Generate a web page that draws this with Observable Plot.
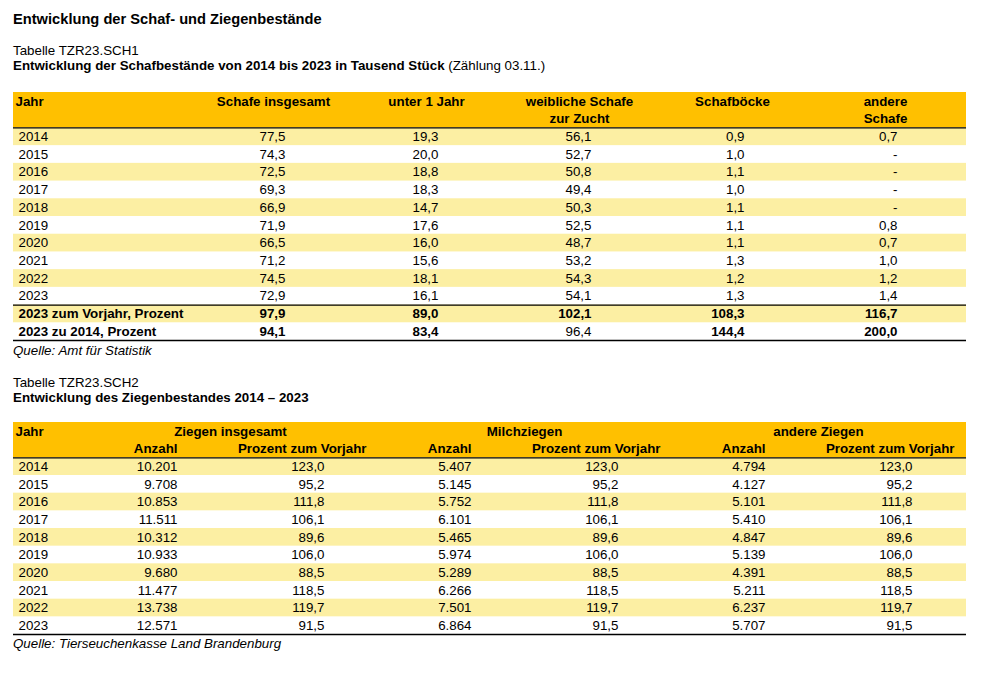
<!DOCTYPE html>
<html><head><meta charset="utf-8">
<script src="https://cdn.jsdelivr.net/npm/d3@7"></script>
<script src="https://cdn.jsdelivr.net/npm/@observablehq/plot@0.6"></script>
<style>
body{margin:0;background:#fff;font-family:"Liberation Sans",Arial,sans-serif;color:#000}
#page{position:relative;width:987px;height:673px;overflow:hidden;background:#fff}
.t{position:absolute;left:13px;white-space:nowrap;line-height:1;font-size:13.33px}
.h{font-size:14.67px;font-weight:bold}
.i{font-style:italic}
#page svg{position:absolute;left:0}
</style></head><body><div id="page">
<div class="t h" style="top:11.6px">Entwicklung der Schaf- und Ziegenbestände</div>
<div class="t" style="top:43.7px">Tabelle TZR23.SCH1</div>
<div class="t" style="top:58.7px"><b>Entwicklung der Schafbestände von 2014 bis 2023 in Tausend Stück</b> (Zählung 03.11.)</div>
<div class="t i" style="top:343.7px">Quelle: Amt für Statistik</div>
<div class="t" style="top:375.7px">Tabelle TZR23.SCH2</div>
<div class="t" style="top:390.7px"><b>Entwicklung des Ziegenbestandes 2014 – 2023</b></div>
<div class="t i" style="top:636.7px">Quelle: Tierseuchenkasse Land Brandenburg</div>
</div>
<script>
// ---------- Data: Tabelle 1 (Schafe, Tausend Stück) ----------
const years = [2014, 2015, 2016, 2017, 2018, 2019, 2020, 2021, 2022, 2023];
const sheepHeaders = [["Schafe insgesamt"], ["unter 1 Jahr"], ["weibliche Schafe", "zur Zucht"], ["Schafböcke"], ["andere", "Schafe"]];
const sheepTotal = [77.5, 74.3, 72.5, 69.3, 66.9, 71.9, 66.5, 71.2, 74.5, 72.9];
const sheepUnder1 = [19.3, 20.0, 18.8, 18.3, 14.7, 17.6, 16.0, 15.6, 18.1, 16.1];
const sheepEwes = [56.1, 52.7, 50.8, 49.4, 50.3, 52.5, 48.7, 53.2, 54.3, 54.1];
const sheepRams = [0.9, 1.0, 1.1, 1.0, 1.1, 1.1, 1.1, 1.3, 1.2, 1.3];
const sheepOther = [0.7, null, null, null, null, 0.8, 0.7, 1.0, 1.2, 1.4];
const summaryLabels = ["2023 zum Vorjahr, Prozent", "2023 zu 2014, Prozent"];
const summaryPrevYear = [97.9, 89.0, 102.1, 108.3, 116.7];
const summaryVs2014 = [94.1, 83.4, 96.4, 144.4, 200.0];

// ---------- Data: Tabelle 2 (Ziegen) ----------
const goatGroups = ["Ziegen insgesamt", "Milchziegen", "andere Ziegen"];
const goatSubHeaders = ["Anzahl", "Prozent zum Vorjahr"];
const goatTotal = [10201, 9708, 10853, 11511, 10312, 10933, 9680, 11477, 13738, 12571];
const goatTotalPct = [123.0, 95.2, 111.8, 106.1, 89.6, 106.0, 88.5, 118.5, 119.7, 91.5];
const goatDairy = [5407, 5145, 5752, 6101, 5465, 5974, 5289, 6266, 7501, 6864];
const goatDairyPct = [123.0, 95.2, 111.8, 106.1, 89.6, 106.0, 88.5, 118.5, 119.7, 91.5];
const goatOther = [4794, 4127, 5101, 5410, 4847, 5139, 4391, 5211, 6237, 5707];
const goatOtherPct = [123.0, 95.2, 111.8, 106.1, 89.6, 106.0, 88.5, 118.5, 119.7, 91.5];

// ---------- Helpers ----------
const de = d3.formatLocale({decimal: ",", thousands: ".", grouping: [3], currency: ["", " €"]});
const f1 = de.format(",.1f");
const fInt = de.format(",d");
const FONT = "Liberation Sans, Arial, sans-serif";
const FS = 13.33;
const ORANGE = "#FFC000", SHADE = "#FCEFA3";
const page = document.getElementById("page");

// ---------- Table 1 ----------
{
  const cols = sheepHeaders.map(h => h.join(" "));
  const series = [sheepTotal, sheepUnder1, sheepEwes, sheepRams, sheepOther];
  const nRows = 2 + years.length + summaryLabels.length;
  const rowLabels = [
    ...years.map((y, i) => ({idx: 2 + i, text: String(y), bold: false})),
    ...summaryLabels.map((s, i) => ({idx: 2 + years.length + i, text: s, bold: true}))
  ];
  const cells = [];
  years.forEach((y, i) => series.forEach((s, j) =>
    cells.push({idx: 2 + i, col: cols[j], text: s[i] == null ? "-" : f1(s[i]), bold: false})));
  [summaryPrevYear, summaryVs2014].forEach((s, r) => s.forEach((v, j) =>
    cells.push({idx: 2 + years.length + r, col: cols[j], text: f1(v), bold: !(r === 1 && j === 2)})));
  const headerCells = [];
  sheepHeaders.forEach((h, j) => h.forEach((line, k) => headerCells.push({idx: k, col: cols[j], text: line})));
  const shaded = rowLabels.filter(r => r.idx < 2 + years.length ? (r.idx - 2) % 2 === 0 : r.idx === 2 + years.length);
  const svg = Plot.plot({
    width: 987, height: 250,
    marginLeft: 13, marginRight: 21, marginTop: 0, marginBottom: 2,
    x: {type: "point", domain: cols, range: [284, 898], padding: 0, axis: null},
    y: {domain: [0, nRows], range: [0, 248], axis: null},
    style: {fontFamily: FONT, fontSize: FS + "px", background: "transparent", overflow: "visible"},
    marks: [
      Plot.rect([{a: 0, b: 2}], {y1: "a", y2: "b", fill: ORANGE}),
      Plot.rect(shaded, {y1: "idx", y2: d => d.idx + 1, fill: SHADE}),
      Plot.ruleY([2, 2 + years.length, nRows], {stroke: "#000", strokeWidth: 1.3}),
      Plot.text(["Jahr"], {frameAnchor: "left", y: () => 0.5, text: d => d, dx: 2, textAnchor: "start", fontWeight: "bold", fontSize: FS, fontFamily: FONT, fill: "#000"}),
      Plot.text(headerCells, {x: "col", y: d => d.idx + 0.5, text: "text", dx: -12, textAnchor: "middle", fontWeight: "bold", fontSize: FS, fontFamily: FONT, fill: "#000"}),
      Plot.text(rowLabels.filter(d => !d.bold), {frameAnchor: "left", y: d => d.idx + 0.5, text: "text", dx: 5, textAnchor: "start", fontSize: FS, fontFamily: FONT, fill: "#000"}),
      Plot.text(rowLabels.filter(d => d.bold), {frameAnchor: "left", y: d => d.idx + 0.5, text: "text", dx: 5, textAnchor: "start", fontWeight: "bold", fontSize: FS, fontFamily: FONT, fill: "#000"}),
      Plot.text(cells.filter(d => !d.bold), {x: "col", y: d => d.idx + 0.5, text: "text", textAnchor: "end", fontSize: FS, fontFamily: FONT, fill: "#000"}),
      Plot.text(cells.filter(d => d.bold), {x: "col", y: d => d.idx + 0.5, text: "text", textAnchor: "end", fontWeight: "bold", fontSize: FS, fontFamily: FONT, fill: "#000"})
    ]
  });
  svg.style.top = "92px";
  page.appendChild(svg);
}

// ---------- Table 2 ----------
{
  const cols = [];
  goatGroups.forEach(g => goatSubHeaders.forEach(s => cols.push(g + "|" + s)));
  const series = [goatTotal, goatTotalPct, goatDairy, goatDairyPct, goatOther, goatOtherPct];
  const nRows = 2 + years.length;
  const rowLabels = years.map((y, i) => ({idx: 2 + i, text: String(y)}));
  const cells = [];
  years.forEach((y, i) => series.forEach((s, j) =>
    cells.push({idx: 2 + i, col: cols[j], text: j % 2 === 0 ? fInt(s[i]) : f1(s[i])})));
  const groupCells = goatGroups.map(g => ({col: g + "|" + goatSubHeaders[0], text: g}));
  const subCells = cols.map(c => ({col: c, text: c.split("|")[1]}));
  const shaded = rowLabels.filter(r => (r.idx - 2) % 2 === 0);
  const svg = Plot.plot({
    width: 987, height: 214,
    marginLeft: 13, marginRight: 21, marginTop: 0, marginBottom: 2,
    x: {type: "point", domain: cols, range: [175, 913], padding: 0, axis: null},
    y: {domain: [0, nRows], range: [0, 212], axis: null},
    style: {fontFamily: FONT, fontSize: FS + "px", background: "transparent", overflow: "visible"},
    marks: [
      Plot.rect([{a: 0, b: 2}], {y1: "a", y2: "b", fill: ORANGE}),
      Plot.rect(shaded, {y1: "idx", y2: d => d.idx + 1, fill: SHADE}),
      Plot.ruleY([2, nRows], {stroke: "#000", strokeWidth: 1.3}),
      Plot.text(["Jahr"], {frameAnchor: "left", y: () => 0.5, text: d => d, dx: 2, textAnchor: "start", fontWeight: "bold", fontSize: FS, fontFamily: FONT, fill: "#000"}),
      Plot.text(groupCells, {x: "col", y: () => 0.5, text: "text", dx: 53, textAnchor: "middle", fontWeight: "bold", fontSize: FS, fontFamily: FONT, fill: "#000"}),
      Plot.text(subCells.filter((d, j) => j % 2 === 0), {x: "col", y: () => 1.5, text: "text", textAnchor: "end", fontWeight: "bold", fontSize: FS, fontFamily: FONT, fill: "#000"}),
      Plot.text(subCells.filter((d, j) => j % 2 === 1), {x: "col", y: () => 1.5, text: "text", dx: 42, textAnchor: "end", fontWeight: "bold", fontSize: FS, fontFamily: FONT, fill: "#000"}),
      Plot.text(rowLabels, {frameAnchor: "left", y: d => d.idx + 0.5, text: "text", dx: 5, textAnchor: "start", fontSize: FS, fontFamily: FONT, fill: "#000"}),
      Plot.text(cells, {x: "col", y: d => d.idx + 0.5, text: "text", textAnchor: "end", fontSize: FS, fontFamily: FONT, fill: "#000"})
    ]
  });
  svg.style.top = "422px";
  page.appendChild(svg);
}
</script>
</body></html>
